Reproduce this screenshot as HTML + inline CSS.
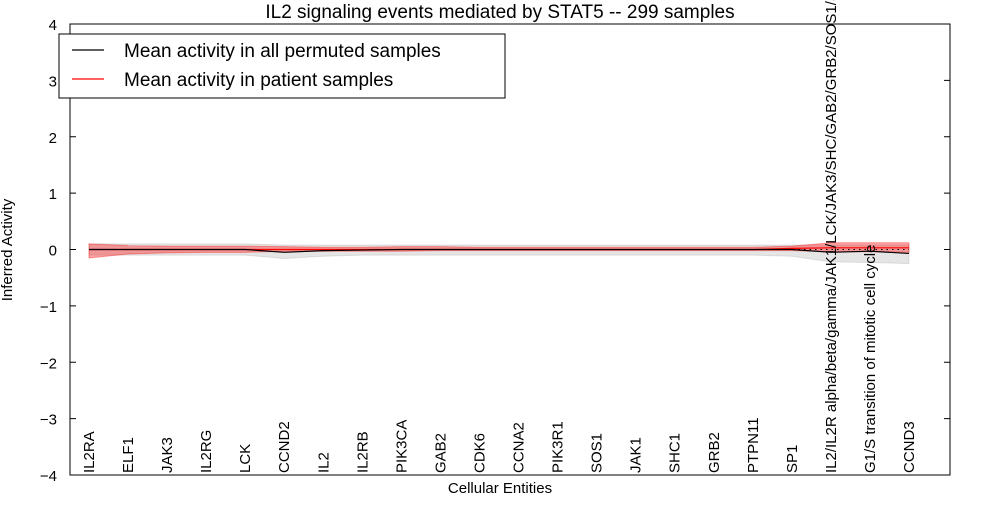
<!DOCTYPE html>
<html><head><meta charset="utf-8"><style>
body{margin:0;background:#fff;}
svg{font-family:"Liberation Sans","DejaVu Sans",sans-serif;}
</style></head><body>
<svg id="c" width="1000" height="500">
<rect width="1000" height="500" fill="#fff"/>
<text x="500" y="18" text-anchor="middle" font-size="19">IL2 signaling events mediated by STAT5 -- 299 samples</text>
<g id="plot"></g>
<rect x="70" y="24" width="880" height="451" fill="none" stroke="#000" stroke-width="1"/>
<text x="500" y="493" text-anchor="middle" font-size="15">Cellular Entities</text>
<text transform="translate(12,250) rotate(-90)" text-anchor="middle" font-size="15">Inferred Activity</text>
<g>
<rect x="59" y="34" width="446" height="64" fill="#fff" stroke="#000"/>
<line x1="72" y1="50" x2="104" y2="50" stroke="#000" stroke-width="1.3"/>
<text x="124" y="57" font-size="19">Mean activity in all permuted samples</text>
<line x1="72" y1="79" x2="104" y2="79" stroke="#f00" stroke-width="1.3"/>
<text x="124" y="86" font-size="19">Mean activity in patient samples</text>
</g>
</svg>
<script>
const categories=["IL2RA","ELF1","JAK3","IL2RG","LCK","CCND2","IL2","IL2RB","PIK3CA","GAB2","CDK6","CCNA2","PIK3R1","SOS1","JAK1","SHC1","GRB2","PTPN11","SP1","IL2/IL2R alpha/beta/gamma/JAK1/LCK/JAK3/SHC/GAB2/GRB2/SOS1/SHP2","G1/S transition of mitotic cell cycle","CCND3"];
const permMean=[0,0,0,0,0,-0.05,-0.02,-0.01,0,0,0,0,0,0,0,0,0,0,0,-0.05,-0.03,-0.07];
const permLow=[-0.1,-0.1,-0.1,-0.1,-0.1,-0.16,-0.12,-0.1,-0.1,-0.1,-0.1,-0.1,-0.1,-0.1,-0.1,-0.1,-0.1,-0.1,-0.12,-0.22,-0.23,-0.25];
const permHigh=[0.1,0.1,0.1,0.1,0.1,0.08,0.08,0.08,0.08,0.08,0.08,0.08,0.08,0.08,0.08,0.08,0.08,0.08,0.08,0.08,0.08,0.08];
const patMean=[0,0,0,0,0,0,0,0,0,0,0,0,0,0,0,0,0,0,0.02,0.03,0.03,0.03];
const patLow=[-0.15,-0.08,-0.06,-0.05,-0.05,-0.03,-0.03,-0.03,-0.03,-0.02,-0.02,-0.02,-0.02,-0.02,-0.02,-0.02,-0.02,-0.02,-0.02,-0.04,-0.04,-0.05];
const patHigh=[0.1,0.07,0.06,0.06,0.06,0.05,0.04,0.04,0.05,0.05,0.04,0.04,0.04,0.04,0.04,0.04,0.04,0.04,0.06,0.12,0.12,0.12];
const yTicks=[-4,-3,-2,-1,0,1,2,3,4];
const X0=89,X1=909,Y0=24,Y1=475;
const n=categories.length;
const xs=i=>X0+(X1-X0)*i/(n-1);
const ys=v=>Y1-(v+4)/8*(Y1-Y0);
const NS="http://www.w3.org/2000/svg";
const g=document.getElementById('plot');
function mk(t,a){const e=document.createElementNS(NS,t);for(const k in a)e.setAttribute(k,a[k]);g.appendChild(e);return e;}
function band(lo,hi,fill,op,name){
  let d='M'+lo.map((v,i)=>xs(i)+','+ys(v)).join('L')+'L'+hi.map((v,i)=>xs(i)+','+ys(v)).reverse().join('L')+'Z';
  const e=mk('path',{d:d,fill:fill,'fill-opacity':op,stroke:fill,'stroke-opacity':op});
  
  
}
function line(vals,col,name){
  const e=mk('polyline',{points:vals.map((v,i)=>xs(i)+','+ys(v)).join(' '),fill:'none',stroke:col,'stroke-width':1.2});
  
  
}
band(permLow,permHigh,'#999',0.25,'permuted-band');
band(patLow,patHigh,'#f00',0.35,'patient-band');
const z=mk('line',{x1:X0,x2:X1,y1:ys(0),y2:ys(0),stroke:'#000','stroke-dasharray':'1.5,4'});


line(patMean,'#f00','patient-mean-line');
line(permMean,'#000','permuted-mean-line');
yTicks.forEach(t=>{
  const y=ys(t);
  const a=mk('line',{x1:70,x2:76,y1:y,y2:y,stroke:'#000'});
  
  
  const b=mk('line',{x1:944,x2:950,y1:y,y2:y,stroke:'#000'});
  
  
  const tx=mk('text',{x:57,y:y+6,'text-anchor':'end','font-size':15});
  tx.textContent=(t<0?'\u2212'+(-t):t);
  
  
});
categories.forEach((c,i)=>{
  const x=xs(i);
  const t=mk('text',{transform:`translate(${x+5},473) rotate(-90)`,'font-size':15});
  t.textContent=c;
  
  
});
</script>
</body></html>
